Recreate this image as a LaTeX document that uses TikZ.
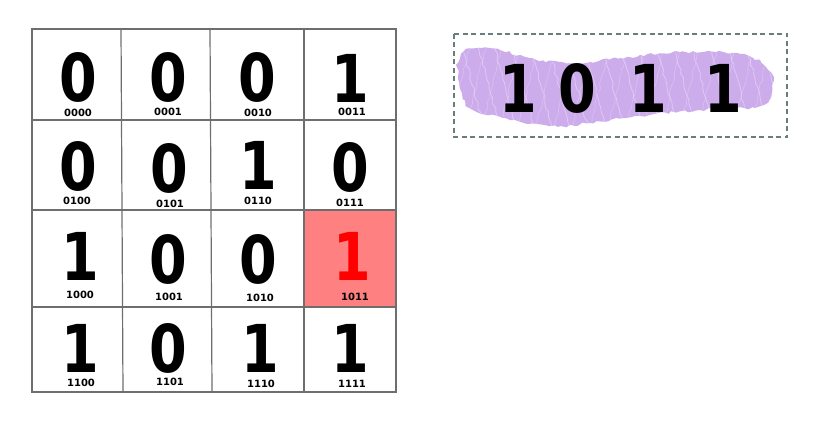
\documentclass[tikz,border=0pt]{standalone}
\usepackage{fontspec}
\setmainfont{DejaVu Sans}
\usetikzlibrary{decorations.pathmorphing}
\definecolor{gridgray}{RGB}{110,110,110}
\definecolor{cellred}{RGB}{255,128,128}
\definecolor{digred}{RGB}{255,0,0}
\definecolor{dashgray}{RGB}{105,125,125}
\definecolor{brush}{RGB}{205,172,236}
\definecolor{brushlight}{RGB}{230,212,246}
\newcommand{\dg}[1]{\scalebox{0.82}[1]{#1}}
\begin{document}
\begin{tikzpicture}[x=1pt,y=-1pt,
  gridline/.style={draw=gridgray,line width=1.2pt},
  bigdigit/.style={inner sep=0pt,font=\fontsize{66}{66}\bfseries\selectfont},
  celllabel/.style={inner sep=0pt,font=\fontsize{10}{10}\bfseries\selectfont},
  dashbox/.style={draw=dashgray,line width=1.1pt,dash pattern=on 5pt off 3.5pt},
  ragged/.style={decorate,decoration={random steps,segment length=4pt,amplitude=1.5pt}}
]
\useasboundingbox (0,0) rectangle (825,444);
% highlighted cell
\fill[cellred] (304,210) rectangle (396,307);
% grid
\draw[gridline] (32,29) rectangle (396,392);
\draw[gridline] (121,29) -- (123,392);
\draw[gridline] (210,29) -- (212,392);
\draw[gridline] (304,29) -- (304,392);
\draw[gridline] (32,120) -- (396,120);
\draw[gridline] (32,210) -- (396,210);
\draw[gridline] (32,307) -- (396,307);
% row 0
\node[bigdigit] (d0) at (78,77) {\dg{0}};
\node[celllabel] (l0) at (78,113) {0000};
\node[bigdigit] (d1) at (168,77) {\dg{0}};
\node[celllabel] (l1) at (168,112) {0001};
\node[bigdigit] (d2) at (257,77) {\dg{0}};
\node[celllabel] (l2) at (258,113) {0010};
\node[bigdigit] (d3) at (350,78) {\dg{1}};
\node[celllabel] (l3) at (352,112) {0011};
% row 1
\node[bigdigit] (d4) at (78,166) {\dg{0}};
\node[celllabel] (l4) at (77,201) {0100};
\node[bigdigit] (d5) at (169,168) {\dg{0}};
\node[celllabel] (l5) at (170,204) {0101};
\node[bigdigit] (d6) at (258,165) {\dg{1}};
\node[celllabel] (l6) at (258,201) {0110};
\node[bigdigit] (d7) at (350,167) {\dg{0}};
\node[celllabel] (l7) at (350,203) {0111};
% row 2
\node[bigdigit] (d8) at (80,256) {\dg{1}};
\node[celllabel] (l8) at (80,295) {1000};
\node[bigdigit] (d9) at (168,259) {\dg{0}};
\node[celllabel] (l9) at (169,297) {1001};
\node[bigdigit] (d10) at (258,259) {\dg{0}};
\node[celllabel] (l10) at (260,298) {1010};
\node[bigdigit,text=digred] (d11) at (352,256) {\dg{1}};
\node[celllabel] (l11) at (355,297) {1011};
% row 3
\node[bigdigit] (d12) at (80,348) {\dg{1}};
\node[celllabel] (l12) at (81,383) {1100};
\node[bigdigit] (d13) at (168,348) {\dg{0}};
\node[celllabel] (l13) at (170,382) {1101};
\node[bigdigit] (d14) at (260,348) {\dg{1}};
\node[celllabel] (l14) at (261,384) {1110};
\node[bigdigit] (d15) at (350,348) {\dg{1}};
\node[celllabel] (l15) at (352,384) {1111};
% right panel
\draw[dashbox] (454,34) rectangle (787,137);
\begin{scope}
\path[fill=brush,ragged] plot[smooth cycle,tension=0.7] coordinates {
  (458,78) (463,52) (490,48) (530,58) (570,63) (620,58) (680,52) (740,54) (768,70) (772,92)
  (760,106) (700,110) (640,116) (590,123) (550,126) (505,118) (470,108)};
\clip plot[smooth cycle,tension=0.7] coordinates {
  (458,78) (463,52) (490,48) (530,58) (570,63) (620,58) (680,52) (740,54) (768,70) (772,92)
  (760,106) (700,110) (640,116) (590,123) (550,126) (505,118) (470,108)};
\foreach \xx in {462,478,494,512,530,548,566,584,602,620,638,656,674,692,710,728,746,762}{
  \draw[draw=brushlight,line width=0.8pt,opacity=0.7,decorate,decoration={random steps,segment length=5pt,amplitude=1.2pt}] (\xx,45) -- (\xx+22,128);
  \draw[draw=brushlight,line width=0.6pt,opacity=0.5,decorate,decoration={random steps,segment length=5pt,amplitude=1.2pt}] (\xx+8,45) -- (\xx-12,128);
}
\end{scope}
\node[bigdigit] (b1) at (518,88) {\dg{1}};
\node[bigdigit] (b2) at (577,88) {\dg{0}};
\node[bigdigit] (b3) at (648,88) {\dg{1}};
\node[bigdigit] (b4) at (723,88) {\dg{1}};
\end{tikzpicture}
\end{document}
